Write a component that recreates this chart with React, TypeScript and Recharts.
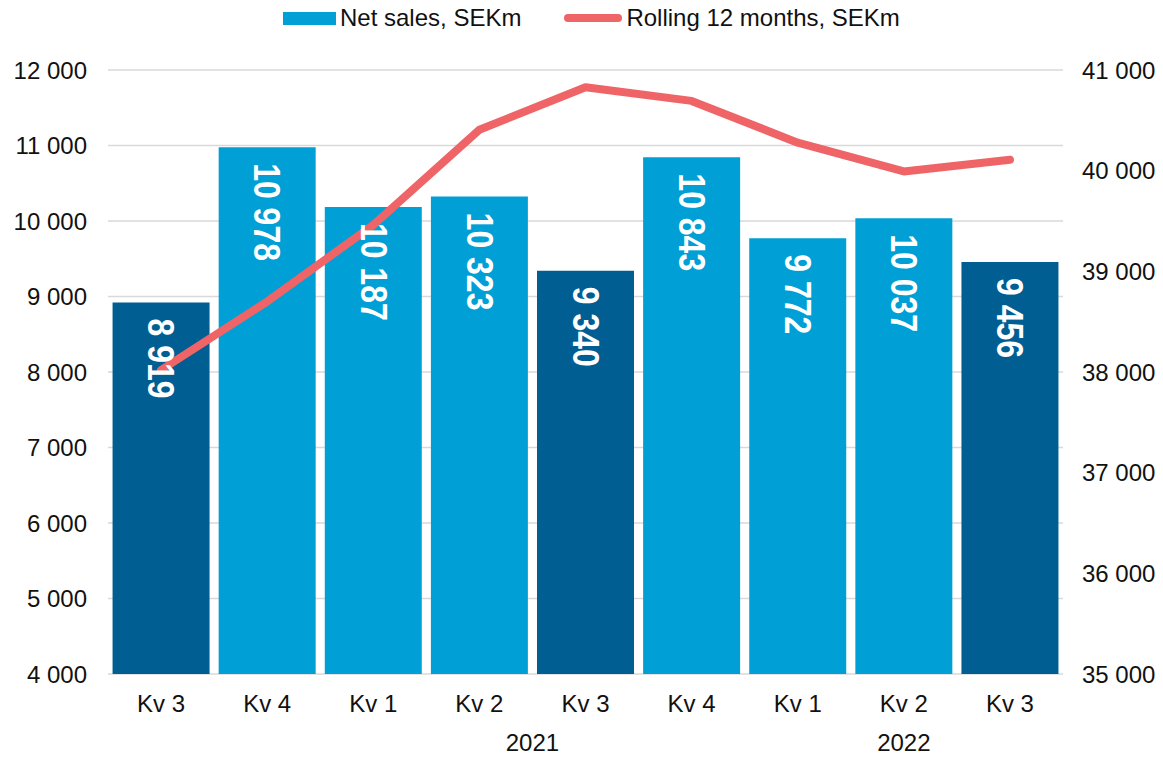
import { ComposedChart, Bar, Line, XAxis, YAxis, CartesianGrid, Legend, LabelList, Cell } from 'recharts'

const quarters = ['Kv 3', 'Kv 4', 'Kv 1', 'Kv 2', 'Kv 3', 'Kv 4', 'Kv 1', 'Kv 2', 'Kv 3']
const years = ['2020', '2020', '2021', '2021', '2021', '2021', '2022', '2022', '2022']
const netSales = [8919, 10978, 10187, 10323, 9340, 10843, 9772, 10037, 9456]
const rolling12 = [38020, 38700, 39460, 40407, 40828, 40693, 40278, 39992, 40108]
const yearLabels = ['2021', '2022']
const leftTicks = [4000, 5000, 6000, 7000, 8000, 9000, 10000, 11000, 12000]
const rightTicks = [35000, 36000, 37000, 38000, 39000, 40000, 41000]

const CYAN = '#00A0D6'
const DARK = '#005E92'
const RED = '#EF6467'
const GRID = '#D9D9D9'
const FONT = '"Liberation Sans", Arial, sans-serif'

// chart fills the whole window (body margin cancelled below)
const W = 1163
const H = 760
const PLOT_TOP = 70
const PLOT_BOTTOM = 674
const PLOT_LEFT = 108
const PLOT_RIGHT = 1063
const STEP = (PLOT_RIGHT - PLOT_LEFT) / quarters.length

const data = quarters.map((q, i) => ({
  key: `${years[i]}-${i}`,
  quarter: q,
  year: years[i],
  sales: netSales[i],
  rolling: rolling12[i],
}))

const fmt = (v: number) => String(v).replace(/\B(?=(\d{3})+(?!\d))/g, ' ')

function QuarterTick(props: any) {
  const { x, y, index } = props
  const row = data[index]
  let yearText = null
  if (row && yearLabels.includes(row.year) && (index === 0 || data[index - 1].year !== row.year)) {
    const last = data.map((d) => d.year).lastIndexOf(row.year)
    const cx = x + ((last - index) / 2) * STEP
    yearText = (
      <text x={cx} y={y + 77} textAnchor="middle" fontSize={24} fontFamily={FONT} fill="#111">
        {row.year}
      </text>
    )
  }
  return (
    <g>
      <text x={x} y={y + 38} textAnchor="middle" fontSize={24} fontFamily={FONT} fill="#111">
        {row ? row.quarter : ''}
      </text>
      {yearText}
    </g>
  )
}

function BarValue(props: any) {
  const { x, y, width, value } = props
  const cx = x + width / 2
  return (
    <text
      transform={`translate(${cx},${y + 16}) rotate(90) scale(1,1.13)`}
      textAnchor="start"
      dominantBaseline="central"
      fontSize={32}
      fontWeight="bold"
      fontFamily={FONT}
      fill="#fff"
    >
      {fmt(value)}
    </text>
  )
}

function LegendContent(props: any) {
  const items = props.payload || []
  return (
    <div style={{ display: 'flex', alignItems: 'center', paddingLeft: 283, height: 24, fontFamily: FONT, fontSize: 24, color: '#111' }}>
      {items.map((it: any, i: number) =>
        it.type === 'line' ? (
          <div key={i} style={{ display: 'flex', alignItems: 'center' }}>
            <svg width={60} height={10} style={{ marginRight: 3 }}>
              <line x1={5} y1={5} x2={55} y2={5} stroke={RED} strokeWidth={8} strokeLinecap="round" />
            </svg>
            <span>{it.value}</span>
          </div>
        ) : (
          <div key={i} style={{ display: 'flex', alignItems: 'center', marginRight: 42 }}>
            <span style={{ display: 'inline-block', width: 53, height: 13, background: CYAN, marginRight: 4 }} />
            <span>{it.value}</span>
          </div>
        )
      )}
    </div>
  )
}

export default function App() {
  return (
    <div style={{ margin: -8, width: W, height: H }}>
      <ComposedChart
        width={W}
        height={H}
        data={data}
        margin={{ top: PLOT_TOP, right: 0, bottom: 0, left: 0 }}
        barCategoryGap="4.3%"
      >
        <CartesianGrid yAxisId="left" vertical={false} stroke={GRID} strokeWidth={1.5} />
        <XAxis
          dataKey="key"
          height={H - PLOT_BOTTOM}
          axisLine={false}
          tickLine={false}
          tickSize={0}
          tickMargin={0}
          interval={0}
          tick={<QuarterTick />}
        />
        <YAxis
          yAxisId="left"
          width={PLOT_LEFT}
          domain={[4000, 12000]}
          ticks={leftTicks}
          tickFormatter={fmt}
          axisLine={false}
          tickLine={false}
          tickSize={0}
          tickMargin={21}
          tick={{ fontSize: 24, fontFamily: FONT, fill: '#111' }}
        />
        <YAxis
          yAxisId="right"
          orientation="right"
          width={W - PLOT_RIGHT}
          domain={[35000, 41000]}
          ticks={rightTicks}
          tickFormatter={fmt}
          axisLine={false}
          tickLine={false}
          tickSize={0}
          tickMargin={19}
          tick={{ fontSize: 24, fontFamily: FONT, fill: '#111', textAnchor: 'start' }}
        />
        <Legend verticalAlign="middle" align="center" layout="horizontal" wrapperStyle={{ top: 6, left: 0, width: W }} content={<LegendContent />} />
        <Bar yAxisId="left" dataKey="sales" name="Net sales, SEKm" fill={CYAN} legendType="rect" isAnimationActive={false}>
          {data.map((d) => (
            <Cell key={d.key} fill={d.quarter === 'Kv 3' ? DARK : CYAN} />
          ))}
          <LabelList dataKey="sales" content={<BarValue />} />
        </Bar>
        <Line
          yAxisId="right"
          dataKey="rolling"
          name="Rolling 12 months, SEKm"
          type="linear"
          stroke={RED}
          strokeWidth={8}
          strokeLinecap="round"
          strokeLinejoin="round"
          dot={false}
          activeDot={false}
          legendType="line"
          isAnimationActive={false}
        />
      </ComposedChart>
    </div>
  )
}
